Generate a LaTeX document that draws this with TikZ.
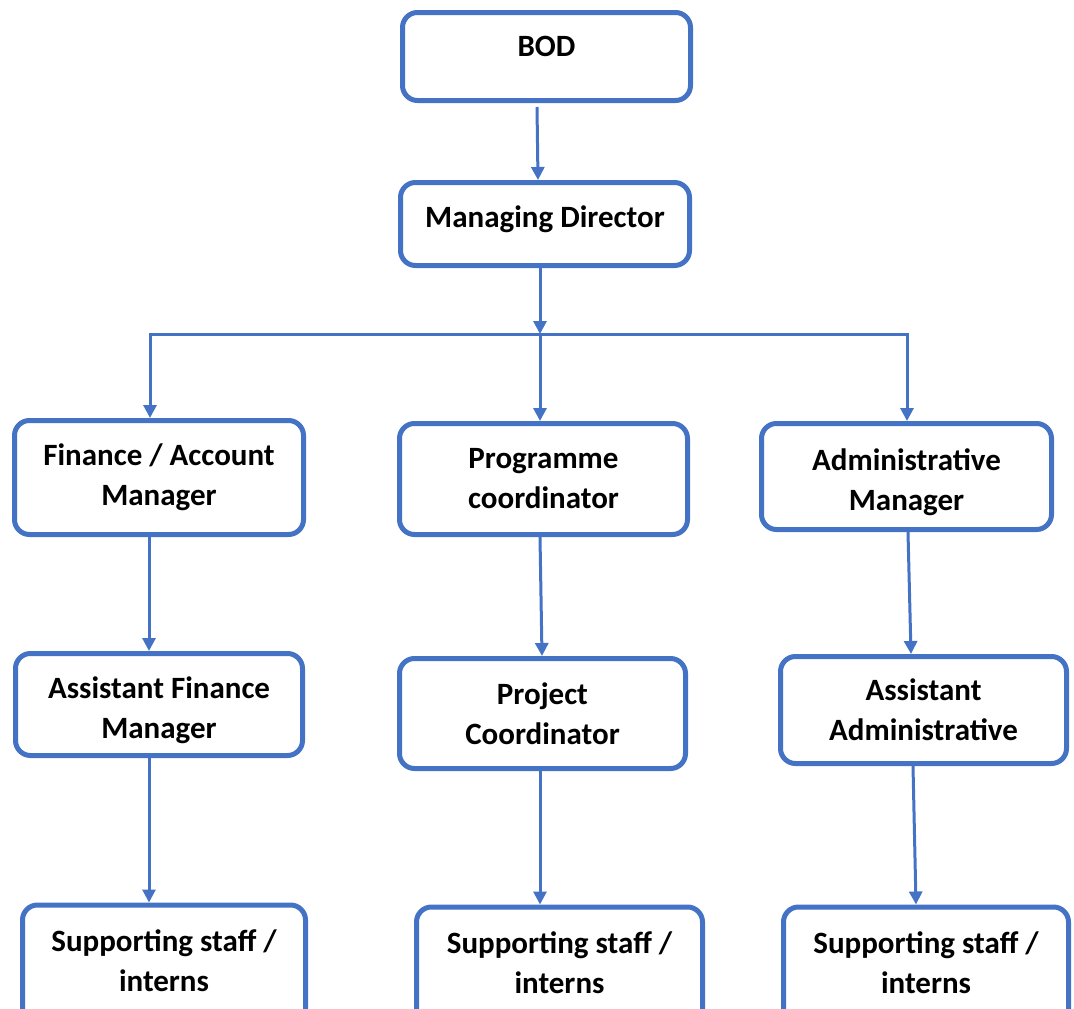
\documentclass[tikz,border=0pt]{standalone}
\usepackage{fontspec}
\setmainfont{Carlito}
\usetikzlibrary{arrows.meta}
\definecolor{boxblue}{HTML}{4472C4}
\begin{document}
\begin{tikzpicture}[x=1pt,y=-1pt,
  box/.style={draw=boxblue, line width=5pt, rounded corners=15pt, fill=white,
    align=center, inner sep=0pt, font=\fontsize{31}{40}\selectfont\bfseries},
  conn/.style={draw=boxblue, line width=3pt},
  arr/.style={conn, -{Triangle[length=13pt,width=13pt]}}]
\useasboundingbox (0,0) rectangle (1074,1009);
\clip (0,0) rectangle (1074,1009);
\node[box, minimum width=288pt, minimum height=88pt] (bod) at (546.5,56.5) {BOD\\[-20pt]\mbox{}};
\node[box, minimum width=289pt, minimum height=83pt] (md) at (545,224) {Managing Director\\[-26pt]\mbox{}};
\node[box, minimum width=289pt, minimum height=114pt] (fin) at (159,477.5) {Finance / Account\\Manager};
\node[box, minimum width=288pt, minimum height=111pt] (prog) at (543.5,479) {Programme\\coordinator};
\node[box, minimum width=290pt, minimum height=106pt] (adm) at (906.5,476.5) {\mbox{}\\[-6pt]Administrative\\Manager};
\node[box, minimum width=287pt, minimum height=102pt] (afin) at (159,704.5) {\mbox{}\\[-6pt]Assistant Finance\\Manager};
\node[box, minimum width=286pt, minimum height=110pt] (proj) at (542.5,713.5) {Project\\Coordinator};
\node[box, minimum width=286pt, minimum height=107pt] (aadm) at (923.5,710) {Assistant\\Administrative};
\node[box, minimum width=283pt, minimum height=120pt] (sup1) at (164,965) {Supporting staff /\\interns\\[-32pt]\mbox{}};
\node[box, minimum width=286pt, minimum height=120pt] (sup2) at (559.5,967) {Supporting staff /\\interns\\[-32pt]\mbox{}};
\node[box, minimum width=285pt, minimum height=120pt] (sup3) at (926,967) {Supporting staff /\\interns\\[-32pt]\mbox{}};
\coordinate (j) at (540,334);
\draw[arr] ([xshift=-9.5pt,yshift=-4pt]bod.south) -- ([xshift=-7pt]md.north);
\draw[arr] ([xshift=-5pt]md.south) -- (j);
\draw[arr] (j) -| ([xshift=-9pt]fin.north);
\draw[arr] (j) -- ([xshift=-3.5pt]prog.north);
\draw[arr] (j) -| ([xshift=0.5pt]adm.north);
\draw[arr] ([xshift=-10pt]fin.south) -- ([xshift=-10pt]afin.north);
\draw[arr] ([xshift=-3.5pt]prog.south) -- ([xshift=-0.5pt]proj.north);
\draw[arr] ([xshift=1.5pt]adm.south) -- ([xshift=-12.5pt]aadm.north);
\draw[arr] ([xshift=-10pt]afin.south) -- ([xshift=-15pt]sup1.north);
\draw[arr] ([xshift=-2.5pt]proj.south) -- ([xshift=-19.5pt]sup2.north);
\draw[arr] ([xshift=-10.5pt]aadm.south) -- ([xshift=-10pt]sup3.north);
\end{tikzpicture}
\end{document}
